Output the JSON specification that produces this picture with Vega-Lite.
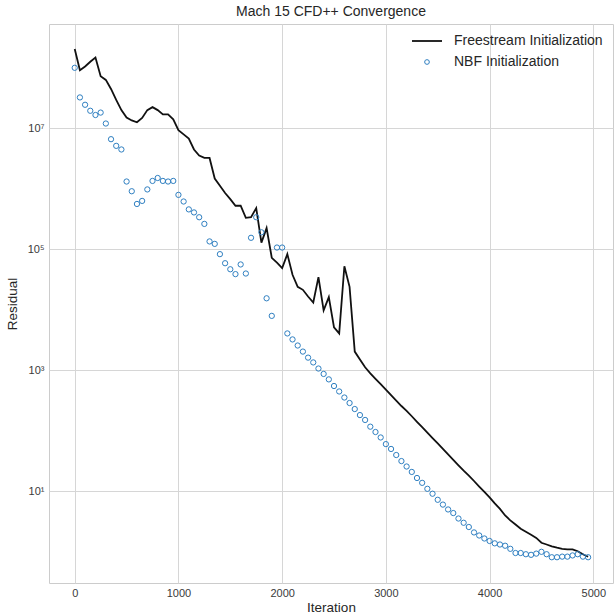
{
  "$schema": "https://vega.github.io/schema/vega-lite/v6.json",
  "width": 564,
  "height": 559,
  "autosize": {"type": "none"},
  "padding": {"left": 49, "top": 24, "right": 1, "bottom": 30},
  "background": "white",
  "title": {"text": "Mach 15 CFD++ Convergence", "fontSize": 14, "font": "Liberation Sans", "fontWeight": "normal", "color": "#262626", "offset": 5},
  "config": {
    "view": {"stroke": "#cccccc", "strokeWidth": 1},
    "axis": {
      "domain": false, "ticks": false, "grid": true, "gridColor": "#d6d6d6", "gridWidth": 1,
      "labelFont": "Liberation Sans", "labelFontSize": 11, "labelColor": "#3a3a3a",
      "titleFont": "Liberation Sans", "titleFontSize": 13.5, "titleFontWeight": "normal", "titleColor": "#262626"
    },
    "legend": {
      "labelFont": "Liberation Sans", "labelFontSize": 14, "labelColor": "#262626"
    }
  },
  "datasets": {
    "freestream": [
      {"iteration": 0, "residual": 2.04e8}, {"iteration": 50, "residual": 9.12e7}, {"iteration": 100, "residual": 1.05e8},
      {"iteration": 150, "residual": 1.26e8}, {"iteration": 200, "residual": 1.48e8}, {"iteration": 250, "residual": 7.24e7},
      {"iteration": 300, "residual": 6.31e7}, {"iteration": 350, "residual": 4.47e7}, {"iteration": 400, "residual": 2.95e7},
      {"iteration": 450, "residual": 2.0e7}, {"iteration": 500, "residual": 1.51e7}, {"iteration": 550, "residual": 1.35e7},
      {"iteration": 600, "residual": 1.26e7}, {"iteration": 650, "residual": 1.48e7}, {"iteration": 700, "residual": 2.0e7},
      {"iteration": 750, "residual": 2.24e7}, {"iteration": 800, "residual": 2.0e7}, {"iteration": 850, "residual": 1.7e7},
      {"iteration": 900, "residual": 1.7e7}, {"iteration": 950, "residual": 1.41e7}, {"iteration": 1000, "residual": 9.33e6},
      {"iteration": 1050, "residual": 7.94e6}, {"iteration": 1100, "residual": 6.76e6}, {"iteration": 1150, "residual": 4.47e6},
      {"iteration": 1200, "residual": 3.55e6}, {"iteration": 1250, "residual": 3.24e6}, {"iteration": 1300, "residual": 3.24e6},
      {"iteration": 1350, "residual": 1.48e6}, {"iteration": 1400, "residual": 1.12e6}, {"iteration": 1450, "residual": 8.51e5},
      {"iteration": 1500, "residual": 6.76e5}, {"iteration": 1550, "residual": 5.25e5}, {"iteration": 1600, "residual": 5.25e5},
      {"iteration": 1650, "residual": 3.31e5}, {"iteration": 1700, "residual": 3.39e5}, {"iteration": 1750, "residual": 4.79e5},
      {"iteration": 1800, "residual": 1.29e5}, {"iteration": 1850, "residual": 2.24e5}, {"iteration": 1900, "residual": 7.24e4},
      {"iteration": 1950, "residual": 6.03e4}, {"iteration": 2000, "residual": 4.9e4}, {"iteration": 2050, "residual": 8.32e4},
      {"iteration": 2100, "residual": 3.8e4}, {"iteration": 2150, "residual": 2.4e4}, {"iteration": 2200, "residual": 2.14e4},
      {"iteration": 2250, "residual": 1.66e4}, {"iteration": 2300, "residual": 1.32e4}, {"iteration": 2350, "residual": 3.47e4},
      {"iteration": 2400, "residual": 9.77e3}, {"iteration": 2450, "residual": 1.62e4}, {"iteration": 2500, "residual": 5.13e3},
      {"iteration": 2550, "residual": 4.07e3}, {"iteration": 2600, "residual": 5.25e4}, {"iteration": 2650, "residual": 2.4e4},
      {"iteration": 2700, "residual": 2.04e3}, {"iteration": 2750, "residual": 1.51e3}, {"iteration": 2800, "residual": 1.12e3},
      {"iteration": 2850, "residual": 891}, {"iteration": 2900, "residual": 724}, {"iteration": 2950, "residual": 589},
      {"iteration": 3000, "residual": 479}, {"iteration": 3050, "residual": 389}, {"iteration": 3100, "residual": 316},
      {"iteration": 3150, "residual": 257}, {"iteration": 3200, "residual": 214}, {"iteration": 3250, "residual": 174},
      {"iteration": 3300, "residual": 141}, {"iteration": 3350, "residual": 115}, {"iteration": 3400, "residual": 93.3},
      {"iteration": 3450, "residual": 75.9}, {"iteration": 3500, "residual": 61.7}, {"iteration": 3550, "residual": 50.1},
      {"iteration": 3600, "residual": 40.7}, {"iteration": 3650, "residual": 33.1}, {"iteration": 3700, "residual": 26.9},
      {"iteration": 3750, "residual": 21.9}, {"iteration": 3800, "residual": 18.2}, {"iteration": 3850, "residual": 14.8},
      {"iteration": 3900, "residual": 12.0}, {"iteration": 3950, "residual": 9.77}, {"iteration": 4000, "residual": 7.94},
      {"iteration": 4050, "residual": 6.31}, {"iteration": 4100, "residual": 5.13}, {"iteration": 4150, "residual": 3.98},
      {"iteration": 4200, "residual": 3.31}, {"iteration": 4250, "residual": 2.82}, {"iteration": 4300, "residual": 2.4},
      {"iteration": 4350, "residual": 2.14}, {"iteration": 4400, "residual": 1.91}, {"iteration": 4450, "residual": 1.7},
      {"iteration": 4500, "residual": 1.41}, {"iteration": 4550, "residual": 1.32}, {"iteration": 4600, "residual": 1.23},
      {"iteration": 4650, "residual": 1.17}, {"iteration": 4700, "residual": 1.12}, {"iteration": 4750, "residual": 1.1},
      {"iteration": 4800, "residual": 1.1}, {"iteration": 4850, "residual": 1.02}, {"iteration": 4900, "residual": 0.91},
      {"iteration": 4950, "residual": 0.83}
    ],
    "nbf": [
      {"iteration": 0, "residual": 1.0e8}, {"iteration": 50, "residual": 3.24e7}, {"iteration": 100, "residual": 2.45e7},
      {"iteration": 150, "residual": 1.95e7}, {"iteration": 200, "residual": 1.66e7}, {"iteration": 250, "residual": 1.82e7},
      {"iteration": 300, "residual": 1.2e7}, {"iteration": 350, "residual": 6.61e6}, {"iteration": 400, "residual": 5.13e6},
      {"iteration": 450, "residual": 4.47e6}, {"iteration": 500, "residual": 1.32e6}, {"iteration": 550, "residual": 9.12e5},
      {"iteration": 600, "residual": 5.62e5}, {"iteration": 650, "residual": 6.31e5}, {"iteration": 700, "residual": 9.77e5},
      {"iteration": 750, "residual": 1.35e6}, {"iteration": 800, "residual": 1.51e6}, {"iteration": 850, "residual": 1.35e6},
      {"iteration": 900, "residual": 1.32e6}, {"iteration": 950, "residual": 1.35e6}, {"iteration": 1000, "residual": 7.94e5},
      {"iteration": 1050, "residual": 6.17e5}, {"iteration": 1100, "residual": 4.57e5}, {"iteration": 1150, "residual": 4.07e5},
      {"iteration": 1200, "residual": 3.39e5}, {"iteration": 1250, "residual": 2.63e5}, {"iteration": 1300, "residual": 1.35e5},
      {"iteration": 1350, "residual": 1.23e5}, {"iteration": 1400, "residual": 8.32e4}, {"iteration": 1450, "residual": 5.89e4},
      {"iteration": 1500, "residual": 4.68e4}, {"iteration": 1550, "residual": 3.89e4}, {"iteration": 1600, "residual": 5.62e4},
      {"iteration": 1650, "residual": 3.98e4}, {"iteration": 1700, "residual": 1.55e5}, {"iteration": 1750, "residual": 3.39e5},
      {"iteration": 1800, "residual": 1.91e5}, {"iteration": 1850, "residual": 1.55e4}, {"iteration": 1900, "residual": 7.94e3},
      {"iteration": 1950, "residual": 1.07e5}, {"iteration": 2000, "residual": 1.07e5}, {"iteration": 2050, "residual": 4.07e3},
      {"iteration": 2100, "residual": 3.24e3}, {"iteration": 2150, "residual": 2.57e3}, {"iteration": 2200, "residual": 2.04e3},
      {"iteration": 2250, "residual": 1.62e3}, {"iteration": 2300, "residual": 1.35e3}, {"iteration": 2350, "residual": 1.07e3},
      {"iteration": 2400, "residual": 871}, {"iteration": 2450, "residual": 708}, {"iteration": 2500, "residual": 550},
      {"iteration": 2550, "residual": 447}, {"iteration": 2600, "residual": 355}, {"iteration": 2650, "residual": 288},
      {"iteration": 2700, "residual": 229}, {"iteration": 2750, "residual": 182}, {"iteration": 2800, "residual": 151},
      {"iteration": 2850, "residual": 117}, {"iteration": 2900, "residual": 95.5}, {"iteration": 2950, "residual": 77.6},
      {"iteration": 3000, "residual": 60.3}, {"iteration": 3050, "residual": 50.1}, {"iteration": 3100, "residual": 39.8},
      {"iteration": 3150, "residual": 31.6}, {"iteration": 3200, "residual": 25.7}, {"iteration": 3250, "residual": 20.9},
      {"iteration": 3300, "residual": 16.6}, {"iteration": 3350, "residual": 13.8}, {"iteration": 3400, "residual": 11.0},
      {"iteration": 3450, "residual": 9.12}, {"iteration": 3500, "residual": 7.24}, {"iteration": 3550, "residual": 6.03},
      {"iteration": 3600, "residual": 5.01}, {"iteration": 3650, "residual": 4.37}, {"iteration": 3700, "residual": 3.55},
      {"iteration": 3750, "residual": 3.02}, {"iteration": 3800, "residual": 2.57}, {"iteration": 3850, "residual": 2.09},
      {"iteration": 3900, "residual": 1.86}, {"iteration": 3950, "residual": 1.66}, {"iteration": 4000, "residual": 1.51},
      {"iteration": 4050, "residual": 1.38}, {"iteration": 4100, "residual": 1.32}, {"iteration": 4150, "residual": 1.26},
      {"iteration": 4200, "residual": 1.12}, {"iteration": 4250, "residual": 0.955}, {"iteration": 4300, "residual": 0.955},
      {"iteration": 4350, "residual": 0.912}, {"iteration": 4400, "residual": 0.891}, {"iteration": 4450, "residual": 0.933},
      {"iteration": 4500, "residual": 1.0}, {"iteration": 4550, "residual": 0.912}, {"iteration": 4600, "residual": 0.813},
      {"iteration": 4650, "residual": 0.813}, {"iteration": 4700, "residual": 0.832}, {"iteration": 4750, "residual": 0.832},
      {"iteration": 4800, "residual": 0.871}, {"iteration": 4850, "residual": 0.912}, {"iteration": 4900, "residual": 0.832},
      {"iteration": 4950, "residual": 0.813}
    ]
  },
  "encoding": {
    "x": {
      "field": "iteration", "type": "quantitative",
      "scale": {"domain": [-248, 5190], "nice": false, "zero": false},
      "axis": {"title": "Iteration", "values": [0, 1000, 2000, 3000, 4000, 5000], "format": "d", "labelPadding": 4, "titlePadding": 2}
    },
    "y": {
      "field": "residual", "type": "quantitative",
      "scale": {"type": "log", "domain": [0.305, 5.3e8], "nice": false},
      "axis": {
        "title": "Residual", "values": [10, 1000, 100000, 10000000],
        "labelExpr": "'10' + ['⁰','¹','²','³','⁴','⁵','⁶','⁷','⁸','⁹'][round(log(datum.value)/LN10)]",
        "labelPadding": 5, "titlePadding": 8
      }
    },
    "color": {
      "scale": {"domain": ["Freestream Initialization", "NBF Initialization"], "range": ["#111111", "#2f7fc1"]},
      "legend": {
        "title": null, "orient": "top-right", "offset": 10, "padding": 0,
        "labelOffset": 20, "rowPadding": 7, "symbolSize": 900, "symbolStrokeWidth": 1.8,
        "encode": {
          "symbols": {
            "update": {
              "shape": {"signal": "datum.value === 'NBF Initialization' ? 'circle' : 'stroke'"},
              "size": {"signal": "datum.value === 'NBF Initialization' ? 22 : 900"},
              "strokeWidth": {"signal": "datum.value === 'NBF Initialization' ? 1 : 1.8"},
              "fill": {"value": "transparent"}
            }
          }
        }
      }
    }
  },
  "layer": [
    {
      "data": {"name": "freestream"},
      "mark": {"type": "line", "strokeWidth": 1.8},
      "encoding": {"color": {"datum": "Freestream Initialization"}}
    },
    {
      "data": {"name": "nbf"},
      "mark": {"type": "point", "shape": "circle", "filled": false, "size": 28, "strokeWidth": 1, "opacity": 1},
      "encoding": {"color": {"datum": "NBF Initialization"}}
    }
  ]
}
